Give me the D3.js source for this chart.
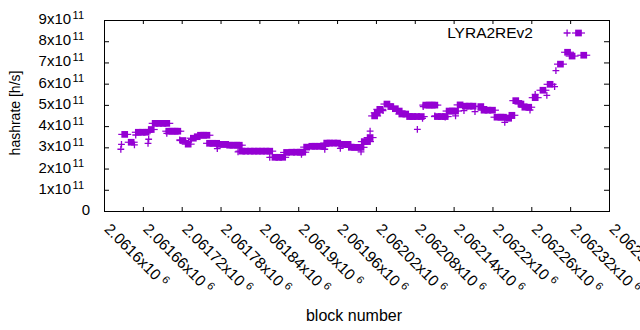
<!DOCTYPE html>
<html>
<head>
<meta charset="utf-8">
<script src="https://cdn.jsdelivr.net/npm/d3@7"></script>
<style>
body { margin: 0; background: #ffffff; }
text { font-family: "Liberation Sans", Arial, sans-serif; fill: #000000; }
</style>
</head>
<body>
<script>

var seriesName = "LYRA2REv2";
var xTitle = "block number";
var yTitle = "hashrate [h/s]";

var xTicks = [2061600, 2061660, 2061720, 2061780, 2061840, 2061900, 2061960,
              2062020, 2062080, 2062140, 2062200, 2062260, 2062320, 2062380];
var yTicks = [0, 1e11, 2e11, 3e11, 4e11, 5e11, 6e11, 7e11, 8e11, 9e11];

// filled squares (with horizontal bars)
var squareBlocks = [2061632, 2061642, 2061653, 2061659, 2061665, 2061673, 2061679, 2061685, 2061691, 2061697,
                    2061700, 2061705, 2061710, 2061714, 2061722, 2061730, 2061738, 2061744, 2061749, 2061754,
                    2061759, 2061763, 2061768, 2061774, 2061778, 2061784, 2061788, 2061794, 2061799, 2061805,
                    2061809, 2061813, 2061819, 2061826, 2061832, 2061838, 2061844, 2061850, 2061856, 2061864,
                    2061870, 2061876, 2061882, 2061890, 2061897, 2061903, 2061907, 2061913, 2061921, 2061926,
                    2061932, 2061938, 2061944, 2061949, 2061955, 2061961, 2061967, 2061972, 2061977, 2061982,
                    2061987, 2061992, 2061997, 2062002, 2062007, 2062011, 2062018, 2062022, 2062026, 2062037,
                    2062043, 2062050, 2062056, 2062060, 2062066, 2062072, 2062077, 2062083, 2062090, 2062097,
                    2062102, 2062107, 2062111, 2062115, 2062121, 2062127, 2062133, 2062138, 2062143, 2062150,
                    2062158, 2062164, 2062170, 2062182, 2062187, 2062193, 2062200, 2062207, 2062213, 2062217,
                    2062225, 2062230, 2062236, 2062244, 2062250, 2062256, 2062266, 2062278, 2062289, 2062305,
                    2062316, 2062323, 2062341];
var squareRates = [3.61e11, 3.24e11, 3.71e11, 3.71e11, 3.71e11, 3.84e11, 4.13e11, 4.13e11, 4.13e11, 4.13e11,
                   3.76e11, 3.76e11, 3.76e11, 3.76e11, 3.32e11, 3.15e11, 3.43e11, 3.50e11, 3.57e11, 3.57e11,
                   3.57e11, 3.19e11, 3.19e11, 3.19e11, 3.14e11, 3.14e11, 3.14e11, 3.10e11, 3.10e11, 3.10e11,
                   3.10e11, 2.82e11, 2.82e11, 2.82e11, 2.82e11, 2.82e11, 2.82e11, 2.82e11, 2.82e11, 2.53e11,
                   2.53e11, 2.53e11, 2.76e11, 2.77e11, 2.77e11, 2.77e11, 2.77e11, 3.01e11, 3.05e11, 3.05e11,
                   3.05e11, 3.05e11, 3.20e11, 3.20e11, 3.20e11, 3.20e11, 3.14e11, 3.14e11, 3.14e11, 3.00e11,
                   3.00e11, 3.00e11, 3.00e11, 3.27e11, 3.27e11, 3.46e11, 4.48e11, 4.63e11, 4.79e11, 5.04e11,
                   4.92e11, 4.82e11, 4.71e11, 4.57e11, 4.57e11, 4.45e11, 4.45e11, 4.45e11, 4.45e11, 4.99e11,
                   4.99e11, 4.99e11, 4.99e11, 4.45e11, 4.45e11, 4.45e11, 4.71e11, 4.71e11, 4.71e11, 5.00e11,
                   4.94e11, 4.94e11, 4.94e11, 4.92e11, 4.75e11, 4.75e11, 4.75e11, 4.42e11, 4.42e11, 4.42e11,
                   4.37e11, 4.51e11, 5.20e11, 5.04e11, 4.89e11, 4.89e11, 5.34e11, 5.69e11, 5.97e11, 6.92e11,
                   7.48e11, 7.30e11, 7.34e11];

// crosses
var crossBlocks = [2061626, 2061627, 2061647, 2061649, 2061668, 2061669, 2061671, 2061697, 2061717, 2061735,
                   2061775, 2061807, 2061856, 2061905, 2061941, 2061965, 2061997, 2062011, 2062031, 2062084,
                   2062092, 2062093, 2062111, 2062127, 2062143, 2062156, 2062173, 2062219, 2062258, 2062266,
                   2062284, 2062296, 2062298];
var crossRates = [2.91e11, 3.14e11, 3.12e11, 3.58e11, 3.19e11, 3.38e11, 3.78e11, 3.66e11, 3.35e11, 3.38e11,
                  2.94e11, 2.79e11, 2.53e11, 2.67e11, 2.91e11, 2.95e11, 2.79e11, 3.76e11, 4.73e11, 3.85e11,
                  4.37e11, 4.92e11, 4.48e11, 4.42e11, 4.48e11, 4.73e11, 4.68e11, 4.18e11, 4.76e11, 5.50e11,
                  5.45e11, 5.86e11, 6.61e11];

var w = 640;
var h = 330;
var plotL = 104, plotR = 609, plotT = 20, plotB = 211;
var purple = "#9400D3";
var sq = 6.7;      // square side
var cr = 3.4;      // half arm of the cross
var barBlocks = 10; // half length of the horizontal bar

var xScale = d3.scaleLinear()
				.domain([xTicks[0], xTicks[xTicks.length - 1]])
				.range([plotL, plotR]);

var yScale = d3.scaleLinear()
				.domain([0, 9e11])
				.range([plotB, plotT]);

var svg = d3.select("body")
			.append("svg")
			.attr("width", w)
			.attr("height", h);

svg.append("rect")
	.attr("width", w)
	.attr("height", h)
	.attr("fill", "#ffffff");

// axes (ticks point inwards, mirrored on top and right)
var xAxis = d3.axisTop(xScale).tickValues(xTicks).tickSize(4).tickFormat("");
var xAxis2 = d3.axisBottom(xScale).tickValues(xTicks).tickSize(4).tickFormat("");
var yAxis = d3.axisRight(yScale).tickValues(yTicks).tickSize(5).tickFormat("");
var yAxis2 = d3.axisLeft(yScale).tickValues(yTicks).tickSize(5).tickFormat("");

svg.append("g").attr("transform", "translate(0," + plotB + ")").call(xAxis);
svg.append("g").attr("transform", "translate(0," + plotT + ")").call(xAxis2);
svg.append("g").attr("transform", "translate(" + plotL + ",0)").call(yAxis);
svg.append("g").attr("transform", "translate(" + plotR + ",0)").call(yAxis2);

svg.selectAll(".domain").remove();
svg.selectAll(".tick line").attr("stroke", "#000000").attr("stroke-width", 1);

svg.append("rect")
	.attr("x", plotL + 0.5)
	.attr("y", plotT + 0.5)
	.attr("width", plotR - plotL)
	.attr("height", plotB - plotT)
	.attr("fill", "none")
	.attr("stroke", "#000000")
	.attr("stroke-width", 1);

// y tick labels
var yLab = svg.selectAll(".ylab")
			.data(yTicks)
			.enter()
			.append("text")
			.attr("class", "ylab")
			.attr("x", function(d){ return d === 0 ? 90 : 84; })
			.attr("y", function(d){ return yScale(d) + 4; })
			.attr("text-anchor", "end")
			.attr("font-size", "15px");

yLab.append("tspan").text(function(d){ return d === 0 ? "0" : (d / 1e11) + "x10"; });
yLab.filter(function(d){ return d !== 0; })
	.append("tspan")
	.attr("dx", 1.5)
	.attr("dy", -5.2)
	.attr("font-size", "11px")
	.text("11");

// x tick labels, rotated
var xLab = svg.selectAll(".xlab")
			.data(xTicks)
			.enter()
			.append("text")
			.attr("class", "xlab")
			.attr("transform", function(d){ return "translate(" + (xScale(d) - 0.5) + "," + 230 + ") rotate(45)"; })
			.attr("font-size", "15.5px");

xLab.append("tspan").text(function(d){ return (+(d / 1e6).toFixed(5)) + "x10"; });
xLab.append("tspan")
	.attr("dx", 4)
	.attr("dy", -5.2)
	.attr("font-size", "11px")
	.text("6");

// axis titles
svg.append("text")
	.attr("transform", "translate(20,113) rotate(-90)")
	.attr("text-anchor", "middle")
	.attr("font-size", "14px")
	.text(yTitle);

svg.append("text")
	.attr("x", 354)
	.attr("y", 321)
	.attr("text-anchor", "middle")
	.attr("font-size", "16px")
	.text(xTitle);

// horizontal bars of the squares
svg.selectAll(".bar")
	.data(squareBlocks)
	.enter()
	.append("line")
	.attr("x1", function(d){ return xScale(d - barBlocks); })
	.attr("x2", function(d){ return xScale(d + barBlocks); })
	.attr("y1", function(d, i){ return yScale(squareRates[i]); })
	.attr("y2", function(d, i){ return yScale(squareRates[i]); })
	.attr("stroke", purple)
	.attr("stroke-width", 1.2);

svg.selectAll(".sq")
	.data(squareBlocks)
	.enter()
	.append("rect")
	.attr("x", function(d){ return xScale(d) - sq / 2; })
	.attr("y", function(d, i){ return yScale(squareRates[i]) - sq / 2; })
	.attr("width", sq)
	.attr("height", sq)
	.attr("fill", purple);

// crosses
var cross = svg.selectAll(".cross")
			.data(crossBlocks)
			.enter()
			.append("path")
			.attr("d", function(d, i){
				var x = xScale(d), y = yScale(crossRates[i]);
				return "M" + (x - cr) + "," + y + "H" + (x + cr) + "M" + x + "," + (y - cr) + "V" + (y + cr);
			})
			.attr("stroke", purple)
			.attr("stroke-width", 1.3)
			.attr("fill", "none");

// key
svg.append("text")
	.attr("x", 533)
	.attr("y", 37.5)
	.attr("text-anchor", "end")
	.attr("font-size", "15.5px")
	.text(seriesName);

var key = svg.append("g").attr("transform", "translate(0,33)");
key.append("path")
	.attr("d", "M563.6,0H570.6M567.1,-3.5V3.5")
	.attr("stroke", purple)
	.attr("stroke-width", 1.3);
key.append("line")
	.attr("x1", 572).attr("x2", 585)
	.attr("stroke", purple)
	.attr("stroke-width", 1.2);
key.append("rect")
	.attr("x", 578.5 - sq / 2).attr("y", -sq / 2)
	.attr("width", sq).attr("height", sq)
	.attr("fill", purple);

</script>
</body>
</html>
